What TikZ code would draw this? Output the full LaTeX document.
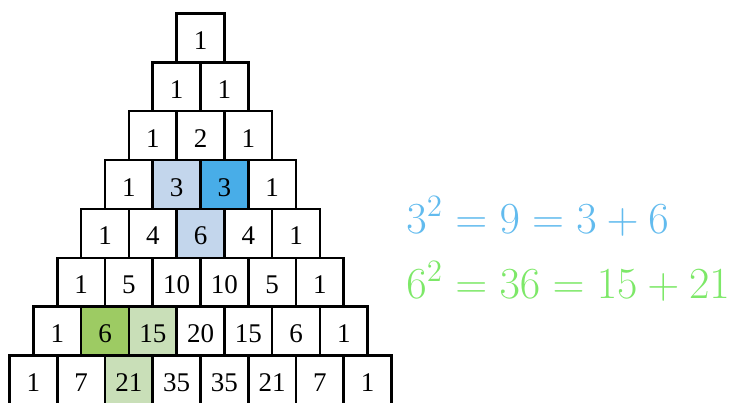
\RequirePackage{fix-cm}
\documentclass[tikz,border=0pt]{standalone}
\usepackage[no-math]{fontspec}
\setmainfont{Liberation Serif}
\definecolor{wh}{RGB}{255,255,255}
\definecolor{lb}{RGB}{195,214,236}
\definecolor{db}{RGB}{72,173,232}
\definecolor{dg}{RGB}{157,203,99}
\definecolor{lg}{RGB}{201,223,184}
\definecolor{eqblue}{RGB}{98,187,238}
\definecolor{eqgreen}{RGB}{125,232,104}
\begin{document}
\begin{tikzpicture}[x=0.5pt,y=-0.5pt,
  cell/.style={draw,line width=1.3pt,minimum width=23.875pt,minimum height=24.45pt,
    inner sep=0pt,text height=11.6pt,text depth=0pt,font=\fontsize{13.5}{16}\selectfont},
  eq/.style={anchor=base west,inner sep=0pt,font=\fontsize{22.2}{26}\selectfont}]
\useasboundingbox (0,0) rectangle (733,402);
\clip (0,0) rectangle (733,402);
\foreach \row [count=\r from 0] in {
  {1/wh},
  {1/wh,1/wh},
  {1/wh,2/wh,1/wh},
  {1/wh,3/lb,3/db,1/wh},
  {1/wh,4/wh,6/lb,4/wh,1/wh},
  {1/wh,5/wh,10/wh,10/wh,5/wh,1/wh},
  {1/wh,6/dg,15/lg,20/wh,15/wh,6/wh,1/wh},
  {1/wh,7/wh,21/lg,35/wh,35/wh,21/wh,7/wh,1/wh}}{
  \foreach \v/\f [count=\c from 0] in \row {
    \node[cell,fill=\f] (n\r-\c) at ({200.5+(\c-\r/2)*47.75},{37.75+\r*48.9}) {\v};
  }
}
\node[eq,text=eqblue] (eqa) at (406,233) {$3^2=9=3+6$};
\node[eq,text=eqgreen] (eqb) at (406,298) {$6^2=36=15+21$};
\end{tikzpicture}
\end{document}
